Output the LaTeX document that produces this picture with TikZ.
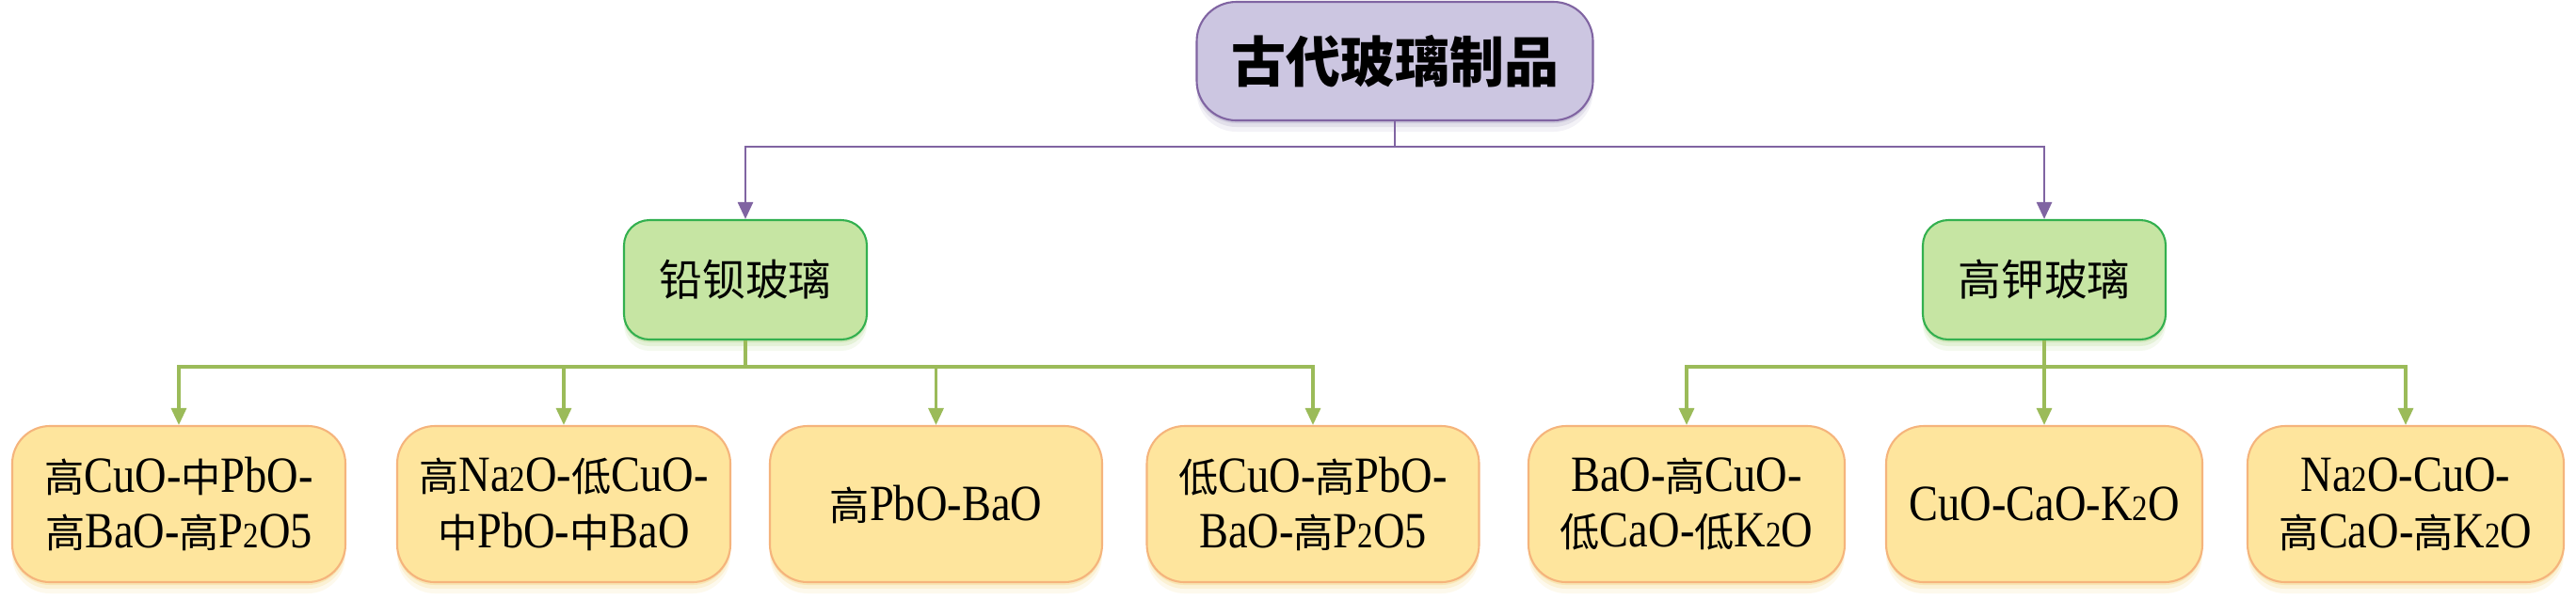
\documentclass[tikz,border=0pt]{standalone}
\usepackage{fontspec}
\setmainfont[Scale=1.28,FakeStretch=0.86]{Liberation Serif}
\newfontfamily\cjk{Noto Sans CJK SC}
\usetikzlibrary{arrows.meta,shadows}
\definecolor{topfill}{HTML}{CCC6E1}
\definecolor{topdraw}{HTML}{8064A2}
\definecolor{topshade}{HTML}{9E96BA}
\definecolor{midfill}{HTML}{C6E5A3}
\definecolor{middraw}{HTML}{33B04F}
\definecolor{midshade}{HTML}{A3CF78}
\definecolor{leaffill}{HTML}{FEE59D}
\definecolor{leafdraw}{HTML}{F5B47C}
\definecolor{leafshade}{HTML}{F2CF6E}
\definecolor{gline}{HTML}{9BBB59}
\newcommand\Z[1]{{\cjk #1}}
\newcommand\ssub[1]{{\fontsize{8.5}{8.5}\selectfont #1}}
\tikzset{
  softshadow/.style={
    general shadow={shadow yshift=-0.03cm, fill=#1, opacity=0.32},
    general shadow={shadow yshift=-0.07cm, fill=#1, opacity=0.20},
    general shadow={shadow yshift=-0.12cm, shadow xshift=0cm, fill=#1, opacity=0.12}},
  topbox/.style={rounded corners=0.42cm, fill=topfill, draw=topdraw, line width=0.6pt,
    minimum width=4.21cm, minimum height=1.26cm, inner sep=0pt, softshadow=topshade,
    font=\cjk\bfseries\fontsize{16.5}{20}\selectfont},
  midbox/.style={rounded corners=0.27cm, fill=midfill, draw=middraw, line width=0.6pt,
    minimum width=2.58cm, minimum height=1.27cm, inner sep=0pt, softshadow=midshade,
    font=\cjk\fontsize{13}{16}\selectfont},
  leafbox/.style={rounded corners=0.4cm, fill=leaffill, draw=leafdraw, line width=0.6pt,
    minimum width=#1, minimum height=1.66cm, inner sep=0pt, align=center, softshadow=leafshade,
    font=\fontsize{12}{17}\selectfont},
  pconn/.style={draw=topdraw, line width=0.75pt, -{Triangle[length=0.18cm,width=0.16cm]}},
  gconn/.style={draw=gline, line width=0.9pt, -{Triangle[length=0.18cm,width=0.16cm]}},
}
\begin{document}
\begin{tikzpicture}
\useasboundingbox (0,0) rectangle (27.37,-6.37);
\coordinate (bus1) at (0,-1.56);
\coordinate (bus2) at (0,-3.90);
\node[topbox] (top) at (14.82,-0.65) {古代玻璃制品};
\node[midbox] (midL) at (7.92,-2.975) {铅钡玻璃};
\node[midbox] (midR) at (21.72,-2.975) {高钾玻璃};
\node[leafbox=3.54cm] (l1) at (1.90,-5.36) {\Z{高}CuO-\Z{中}PbO-\\\Z{高}BaO-\Z{高}P\ssub{2}O5};
\node[leafbox=3.54cm] (l2) at (5.99,-5.36) {\Z{高}Na\ssub{2}O-\Z{低}CuO-\\\Z{中}PbO-\Z{中}BaO};
\node[leafbox=3.53cm] (l3) at (9.945,-5.36) {\Z{高}PbO-BaO};
\node[leafbox=3.53cm] (l4) at (13.95,-5.36) {\Z{低}CuO-\Z{高}PbO-\\BaO-\Z{高}P\ssub{2}O5};
\node[leafbox=3.36cm] (l5) at (17.92,-5.36) {BaO-\Z{高}CuO-\\\Z{低}CaO-\Z{低}K\ssub{2}O};
\node[leafbox=3.36cm] (l6) at (21.72,-5.36) {CuO-CaO-K\ssub{2}O};
\node[leafbox=3.36cm] (l7) at (25.56,-5.36) {Na\ssub{2}O-CuO-\\\Z{高}CaO-\Z{高}K\ssub{2}O};
\draw[pconn] (top.south) -- (top.south |- bus1) -| (midL.north);
\draw[pconn] (top.south) -- (top.south |- bus1) -| (midR.north);
\foreach \n in {l1,l2,l3,l4}
  \draw[gconn] (midL.south) -- (midL.south |- bus2) -| (\n.north);
\foreach \n in {l5,l6,l7}
  \draw[gconn] (midR.south) -- (midR.south |- bus2) -| (\n.north);
\end{tikzpicture}
\end{document}
